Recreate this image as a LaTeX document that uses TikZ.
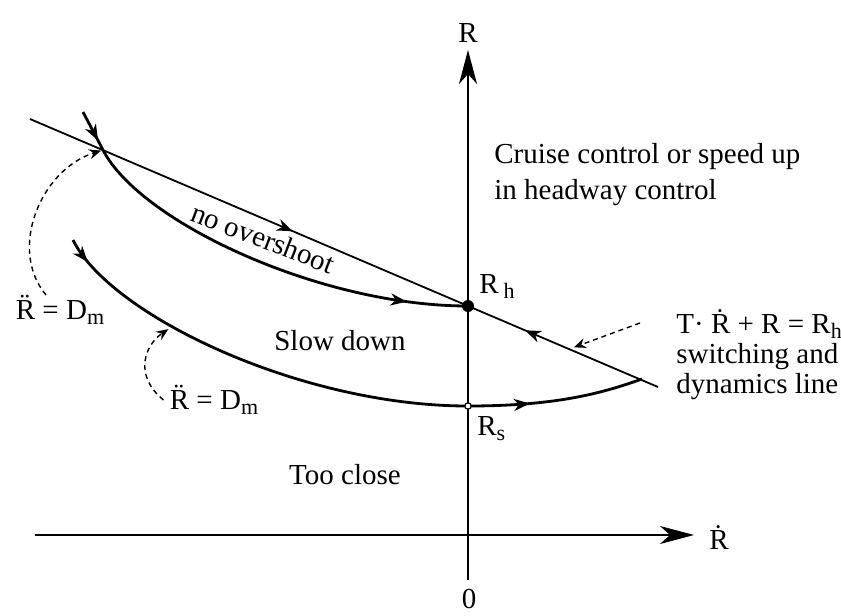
\documentclass[tikz,border=0pt]{standalone}
\usepackage{fontspec}
\setmainfont{Liberation Serif}
\usetikzlibrary{arrows.meta,decorations.markings}
\newcommand{\lowsub}[1]{\raisebox{-2.5pt}{\fontsize{11}{13}\selectfont #1}}

\begin{document}
\begin{tikzpicture}[
    x=0.5pt,y=-0.5pt,
    font=\fontsize{14.5}{15}\selectfont,
    axisline/.style={
      line width=0.9pt,
      -{Stealth[length=17pt,width=9pt,inset=5pt]}
    },
    traj/.style={line width=1.4pt},
    swline/.style={line width=0.9pt},
    hint/.style={
      line width=0.7pt,
      dash pattern=on 2.5pt off 2pt,
      -{Stealth[length=6pt,width=5pt,inset=2pt]},
      shorten >=1pt
    },
    midarr/.style={
      postaction={decorate},
      decoration={markings,
        mark=at position #1 with {\arrow{Stealth[length=8pt,width=6pt,inset=2.5pt]}}}
    },
    lbl/.style={inner sep=0pt}
  ]
  \useasboundingbox (0,0) rectangle (841,616);
  % axes
  \coordinate (vb) at (468,580);
  \coordinate (vt) at (468,50);
  \coordinate (hl) at (35,535);
  \coordinate (hr) at (694,535);
  \draw[axisline] (vb) -- (vt);
  \draw[axisline] (hl) -- (hr);
  \node[lbl] (lblR) at (468,33) {R};
  \node[lbl] (lblRdot) at (719,538) {\.R};
  \node[lbl] (lblzero) at (469,599) {0};

  % switching line
  \coordinate (Rh) at (468,306);
  \coordinate (Rs) at (468,406);
  \coordinate (swl) at (30,119);
  \coordinate (swr) at (658,387);
  \draw[swline,midarr=0.6] (swl) -- (Rh);
  \draw[swline,midarr=0.7] (swr) -- (Rh);

  % trajectories
  \coordinate (c1s) at (83,112);
  \coordinate (c1x) at (103,150);
  \coordinate (c2s) at (73,240);
  \coordinate (c2m) at (170,328);
  \coordinate (c2e) at (642,379);
  \draw[traj,midarr=0.75] (c1s) -- (c1x);
  \draw[traj,midarr=0.85] (c1x) .. controls (140,222) and (320,306) .. (Rh);
  \draw[traj,midarr=0.06] (c2s) .. controls (110,315) and (300,406) .. (Rs);
  \draw[traj,midarr=0.35] (Rs) .. controls (560,406) and (605,392) .. (c2e);

  \node[circle,fill,inner sep=0pt,minimum size=6pt] (dotRh) at (Rh) {};
  \node[circle,draw,fill=white,line width=0.6pt,inner sep=0pt,minimum size=3.2pt] (dotRs) at (Rs) {};

  % labels
  \node[lbl,anchor=north west,align=left,font=\fontsize{14.5}{18}\selectfont]
    (lblcruise) at (494,143) {Cruise control or speed up\\in headway control};
  \node[lbl,rotate=-21] (lblnoover) at (263,238) {no overshoot};
  \node[lbl] (lblslow) at (340,341) {Slow down};
  \node[lbl] (lbltoo) at (345,475) {Too close};
  \node[lbl,anchor=south west] (lblRh) at (479,299) {R\,\lowsub{h}};
  \node[lbl,anchor=north west] (lblRs) at (477,416) {R\lowsub{s}};
  \node[lbl] (lblDa) at (60,310) {\"R = D\lowsub{m}};
  \node[lbl] (lblDb) at (214,400) {\"R = D\lowsub{m}};
  \node[lbl,anchor=north west,align=left] (lblT) at (676,309)
    {T\textperiodcentered\ \.R + R = R\lowsub{h}\\switching and\\dynamics line};

  % pointers
  \draw[hint] ([xshift=-7pt]lblDa.north) .. controls (8,250) and (40,170) .. (c1x);
  \draw[hint] ([xshift=-3pt]lblDb.west) .. controls (133,375) and (145,345) .. (c2m);
  \draw[hint] ([xshift=-18pt,yshift=-7pt]lblT.north west) -- (572,348);
\end{tikzpicture}
\end{document}
